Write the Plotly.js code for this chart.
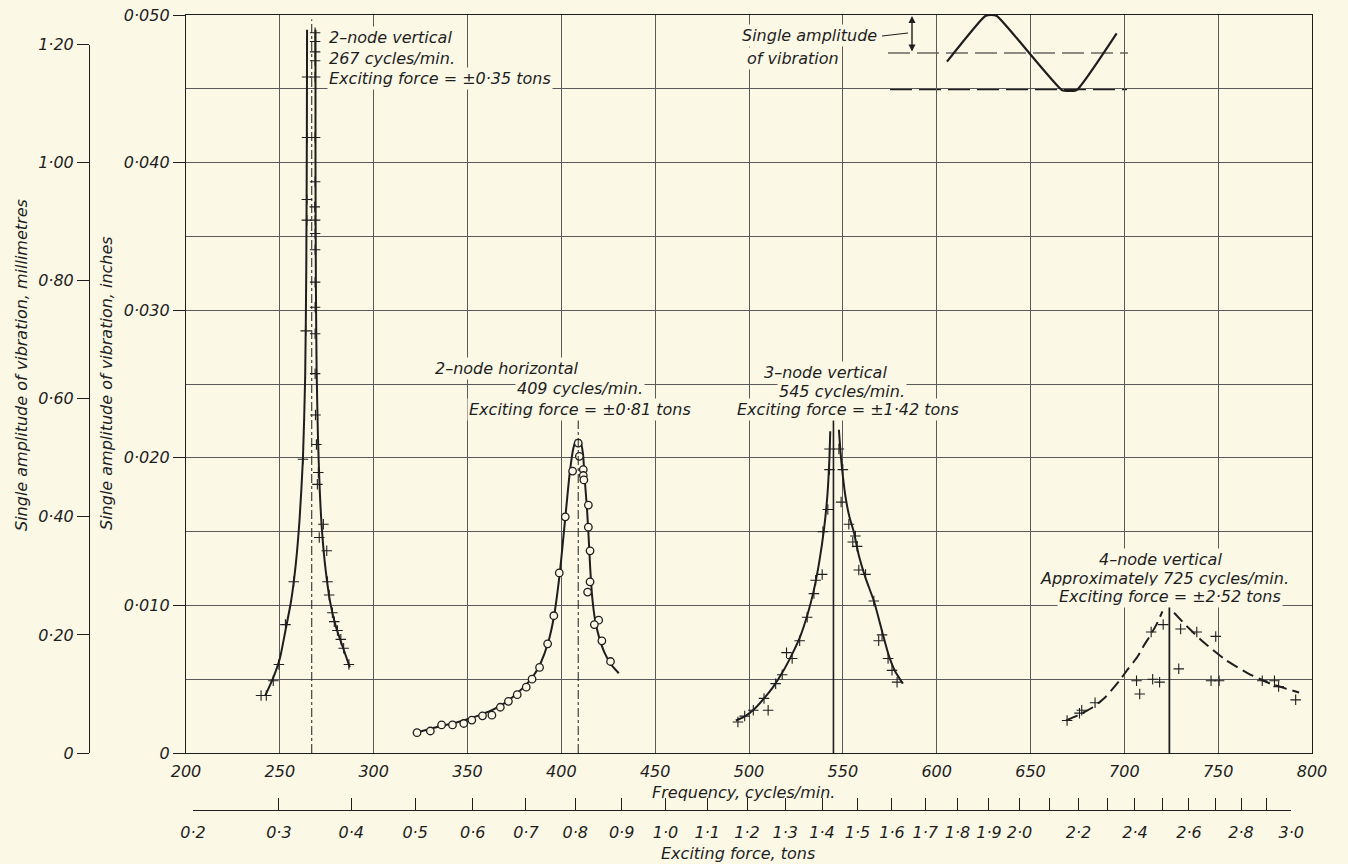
<!DOCTYPE html>
<html>
<head>
<meta charset="utf-8">
<script src="https://cdn.plot.ly/plotly-3.0.1.min.js"></script>
<style>html,body{margin:0;padding:0;background:#fbf8e6;}#chart{width:1348px;height:864px;}</style>
</head>
<body>
<div id="chart"></div>
<script>
// ---------------- DATA ----------------
// Frequency axis ticks
const freqTicks = [200, 250, 300, 350, 400, 450, 500, 550, 600, 650, 700, 750, 800];
const freqTickText = ['200','250','300','350','400','450','500','550','600','650','700','750','800'];
// Amplitude (inches) axis ticks
const inchTicks = [0, 0.010, 0.020, 0.030, 0.040, 0.050];
const inchTickText = ['0', '0·010', '0·020', '0·030', '0·040', '0·050'];
// Amplitude (millimetres) axis ticks
const mmTicks = [0, 0.20, 0.40, 0.60, 0.80, 1.00, 1.20];
const mmTickText = ['0', '0·20', '0·40', '0·60', '0·80', '1·00', '1·20'];
// Exciting force axis ticks (tons)
const forceTicks = [0.2,0.3,0.4,0.5,0.6,0.7,0.8,0.9,1.0,1.1,1.2,1.3,1.4,1.5,1.6,1.7,1.8,1.9,2.0,2.1,2.2,2.3,2.4,2.5,2.6,2.7,2.8,2.9,3.0];
const forceTickText = ['0·2','0·3','0·4','0·5','0·6','0·7','0·8','0·9','1·0','1·1','1·2','1·3','1·4','1·5','1·6','1·7','1·8','1·9','2·0','','2·2','','2·4','','2·6','','2·8','','3·0'];
// force scale of the drawn force axis: force = K * frequency^2
const K = 4.82e-6;
const MM_DRAWN_PER_INCH = 25;

// 2-node vertical, 267 cycles/min
const c1LeftX = [242.3, 246.5, 250, 253, 256, 258.5, 260.5, 262.3, 263.5, 264.1, 264.4, 264.5];
const c1LeftY = [0.0039, 0.0051, 0.0064, 0.0083, 0.0103, 0.0128, 0.0158, 0.0199, 0.0255, 0.0330, 0.0420, 0.0490];
const c1RightX = [269.0, 269.0, 269.2, 269.6, 270.3, 271.2, 272.5, 274.5, 277, 280, 283.5, 287.3];
const c1RightY = [0.0490, 0.0400, 0.0320, 0.0260, 0.0215, 0.0180, 0.0150, 0.0123, 0.0101, 0.0085, 0.0072, 0.0058];
const c1PtsX = [240, 242.8, 246.5, 249.5, 253, 257.4, 262.3, 263.8, 264.4, 264.4, 264.5, 264.5,
  268.8, 268.8, 268.8, 268.8, 268.8, 268.8, 268.8, 268.6, 268.8, 268.8, 268.8, 268.8, 268.8, 268.8, 268.8,
  269.0, 269.5, 270.5, 270.0, 273.2, 271.0, 275.0, 275.4, 276.3, 278.0, 279.0, 280.7, 282.5, 284.0, 286.8];
const c1PtsY = [0.0039, 0.0039, 0.0049, 0.0060, 0.0087, 0.0116, 0.0199, 0.0286, 0.0361, 0.0375, 0.0417, 0.0458,
  0.0488, 0.0482, 0.0475, 0.0469, 0.0458, 0.0417, 0.0387, 0.0370, 0.0361, 0.0352, 0.0341, 0.0319, 0.0302, 0.0284, 0.0257,
  0.0229, 0.0209, 0.0190, 0.0182, 0.0155, 0.0146, 0.0137, 0.0116, 0.0107, 0.0095, 0.0089, 0.0083, 0.0077, 0.0071, 0.0060];

// 2-node horizontal, 409 cycles/min
const c2LineX = [323, 335, 345, 355, 363, 370, 376, 381, 385, 389, 393, 396, 399, 402, 404.5, 406.5, 408, 410, 411.5, 412.5, 413.7, 414.6, 415.4, 416.5, 418, 420, 423, 426.5, 430.6];
const c2LineY = [0.0014, 0.0018, 0.0021, 0.0025, 0.0029, 0.0034, 0.0040, 0.0046, 0.0052, 0.0061, 0.0075, 0.0092, 0.0120, 0.0158, 0.0190, 0.0207, 0.0212, 0.0212, 0.0203, 0.0185, 0.0165, 0.0145, 0.0125, 0.0105, 0.0090, 0.0079, 0.0068, 0.0060, 0.0054];
const c2PtsX = [323.1, 330.2, 336.2, 342, 348, 352.3, 358, 363, 367.5, 371.8, 376.5, 381.3, 384.4, 388.4, 392.7, 396.0, 398.9, 402.1, 406, 409, 409.6, 411.7, 411.7, 412, 414.4, 414.4, 415.3, 415.3, 414.0, 419.9, 417.6, 421.6, 426.2];
const c2PtsY = [0.00138, 0.00149, 0.0019, 0.0019, 0.0020, 0.00223, 0.00252, 0.00256, 0.0031, 0.0035, 0.00395, 0.00446, 0.0050, 0.0058, 0.0074, 0.0093, 0.0122, 0.0160, 0.0191, 0.0210, 0.0201, 0.0192, 0.0188, 0.0185, 0.0168, 0.0153, 0.0137, 0.0116, 0.0109, 0.0090, 0.0087, 0.0076, 0.0062];

// 3-node vertical, 545 cycles/min
const c3LeftX = [493, 498, 503, 508, 513, 518, 523, 527, 531, 534.5, 537.5, 540, 541.8, 542.8, 543.3];
const c3LeftY = [0.0022, 0.0025, 0.0030, 0.0037, 0.0045, 0.0055, 0.0067, 0.0078, 0.0093, 0.0110, 0.0130, 0.0152, 0.0175, 0.0198, 0.0218];
const c3RightX = [547.9, 548.7, 549.8, 551.5, 553.5, 555.8, 558.5, 562, 566.8, 571, 574.5, 578, 582];
const c3RightY = [0.0219, 0.0205, 0.0190, 0.0173, 0.0160, 0.0150, 0.0134, 0.0119, 0.0102, 0.0082, 0.0066, 0.0055, 0.0047];
const c3PtsX = [542.9, 547.9, 542.9, 550.0, 549.1, 542.0, 539.4, 553.2, 556.7, 555.3, 557.6, 558.5, 562.1, 539.0, 535.5, 534.6, 566.5, 531.0, 570.9, 569.1, 527.0, 520.0, 523.0, 574.1, 576.2, 578.9, 517.7, 514.2, 508.0, 494.1, 497.7, 502.3, 510.2];
const c3PtsY = [0.0206, 0.0206, 0.0192, 0.0192, 0.0170, 0.0165, 0.0150, 0.0155, 0.0147, 0.0143, 0.0140, 0.0124, 0.0121, 0.0121, 0.0117, 0.0108, 0.0103, 0.0092, 0.0080, 0.0076, 0.0076, 0.0068, 0.0064, 0.0064, 0.0056, 0.0048, 0.0053, 0.0047, 0.0037, 0.0021, 0.0025, 0.0029, 0.0029];

// 4-node vertical, approx. 725 cycles/min
const c4LeftX = [669, 676, 683.2, 690, 697.4, 702, 706.9, 710.5, 714, 717.5, 720.3];
const c4LeftY = [0.0022, 0.0026, 0.0031, 0.0038, 0.0049, 0.0057, 0.0065, 0.0073, 0.0080, 0.0088, 0.0096];
const c4RightX = [726.5, 734, 742.3, 754.1, 765.9, 777.8, 793.1];
const c4RightY = [0.0095, 0.0085, 0.0075, 0.0063, 0.0054, 0.0047, 0.0041];
const c4PtsX = [669.5, 676.1, 677.3, 684.4, 706.5, 708.2, 715.1, 718.8, 714.3, 720.7, 730.0, 729.0, 738.6, 748.7, 746.2, 750.5, 773.5, 780.0, 782.2, 791.3];
const c4PtsY = [0.0022, 0.0027, 0.0029, 0.0034, 0.0049, 0.0040, 0.0050, 0.0048, 0.0082, 0.0087, 0.0084, 0.0057, 0.0082, 0.0079, 0.0049, 0.0049, 0.0049, 0.0049, 0.0045, 0.0036];

// resonance reference lines
const resFreq = [267, 409, 545, 724];
const resTop = [0.0497, 0.0226, 0.0227, 0.0102];

// explanatory sketch (sine) in the top right
const sineX = [605.5, 625.9, 629.0, 632.1, 666.7, 670.6, 674.6, 695.9];
const sineY = [0.04684, 0.04993, 0.05000, 0.04993, 0.04492, 0.04485, 0.04492, 0.04876];

// ---------------- STYLE / LAYOUT ----------------
const PAPER = '#fbf8e6';
const INK = '#1e1e1e';
const GRID = '#5a5a5a';
const W = 1348, H = 864;
const px = v => v / W;
const py = v => 1 - v / H;
const FONT = {family: 'DejaVu Sans, sans-serif', size: 16, color: INK, style: 'italic'};

const xd = [px(186), px(1312)];
const yd = [py(753), py(15)];
const xFrac = f => xd[0] + (xd[1] - xd[0]) * (f - 200) / 600;
const fOf = F => Math.sqrt(F / K);
const fLo = fOf(forceTicks[0]);
const fHi = fOf(forceTicks[forceTicks.length - 1]);
const mmTop = yd[0] + (yd[1] - yd[0]) * mmTicks[mmTicks.length - 1] / (0.05 * MM_DRAWN_PER_INCH);

function lineTrace(x, y, dash) {
  return {x: x, y: y, mode: 'lines', type: 'scatter', line: {color: INK, width: 2, shape: 'spline', smoothing: 0.6, dash: dash || 'solid'}, hoverinfo: 'skip'};
}
function plusTrace(x, y) {
  return {x: x, y: y, mode: 'markers', type: 'scatter', marker: {symbol: 'cross-thin', size: 7.5, line: {color: INK, width: 1.1}}, hoverinfo: 'skip'};
}

const traces = [
  lineTrace(c1LeftX, c1LeftY), lineTrace(c1RightX, c1RightY), plusTrace(c1PtsX, c1PtsY),
  lineTrace(c2LineX, c2LineY),
  {x: c2PtsX, y: c2PtsY, mode: 'markers', type: 'scatter', marker: {symbol: 'circle', size: 7.5, color: PAPER, line: {color: INK, width: 1.3}}, hoverinfo: 'skip'},
  lineTrace(c3LeftX, c3LeftY), lineTrace(c3RightX, c3RightY), plusTrace(c3PtsX, c3PtsY),
  lineTrace(c4LeftX, c4LeftY, '12px,6px'), lineTrace(c4RightX, c4RightY, '12px,6px'), plusTrace(c4PtsX, c4PtsY),
  {x: sineX, y: sineY, mode: 'lines', type: 'scatter', line: {color: INK, width: 2.2, shape: 'spline', smoothing: 0.5}, hoverinfo: 'skip'},
  // carrier for the free millimetre and force axes
  {x: [fLo], y: [0], xaxis: 'x2', yaxis: 'y2', mode: 'markers', marker: {opacity: 0}, hoverinfo: 'skip'}
];

const resDash = ['dashdot', 'dashdot', 'solid', 'solid'];
const resWidth = [1, 1, 1.6, 1.8];
const shapes = resFreq.map((f, i) => ({type: 'line', xref: 'x', yref: 'y', x0: f, x1: f, y0: 0, y1: resTop[i],
  line: {color: INK, width: resWidth[i], dash: resDash[i]}, layer: 'above'}));
// blank box behind the sketch (hides the grid there)
shapes.push({type: 'rect', xref: 'paper', yref: 'paper', x0: px(868), x1: px(1148), y0: py(107), y1: py(16.5),
  fillcolor: PAPER, line: {width: 0}, layer: 'between'});
shapes.push({type: 'line', xref: 'paper', yref: 'paper', x0: px(890), x1: px(1127), y0: py(89.5), y1: py(89.5),
  line: {color: INK, width: 1.5, dash: '22px,7px'}, layer: 'between'});
shapes.push({type: 'line', xref: 'paper', yref: 'paper', x0: px(888), x1: px(1128), y0: py(53), y1: py(53),
  line: {color: INK, width: 1.2, dash: '22px,7px'}, layer: 'between'});
shapes.push({type: 'line', xref: 'paper', yref: 'paper', x0: px(882), x1: px(908), y0: py(36), y1: py(33),
  line: {color: INK, width: 1}, layer: 'above'});

function txt(text, x, y, opts) {
  return Object.assign({text: text, xref: 'paper', yref: 'paper', x: px(x), y: py(y), xanchor: 'left', yanchor: 'middle',
    showarrow: false, font: FONT, bgcolor: PAPER, borderpad: 1}, opts || {});
}
const annotations = [
  txt('2–node vertical', 327, 37), txt('267 cycles/min.', 327, 58), txt('Exciting force = ±0·35 tons', 327, 78),
  txt('2–node horizontal', 433, 369), txt('409 cycles/min.', 515, 389), txt('Exciting force = ±0·81 tons', 467, 409),
  txt('3–node vertical', 762, 372), txt('545 cycles/min.', 777, 391), txt('Exciting force = ±1·42 tons', 735, 410),
  txt('4–node vertical', 1097, 559), txt('Approximately 725 cycles/min.', 1038, 578), txt('Exciting force = ±2·52 tons', 1057, 596),
  txt('Single amplitude', 740, 35), txt('of vibration', 745, 58),
  txt('Frequency, cycles/min.', 650, 792, {bgcolor: 'rgba(0,0,0,0)'}),
  txt('Exciting force, tons', 659, 853, {bgcolor: 'rgba(0,0,0,0)'}),
  txt('Single amplitude of vibration, inches', 107, 383, {xanchor: 'center', textangle: -90, bgcolor: 'rgba(0,0,0,0)'}),
  txt('Single amplitude of vibration, millimetres', 21, 365, {xanchor: 'center', textangle: -90, bgcolor: 'rgba(0,0,0,0)'}),
  {text: '', xref: 'paper', yref: 'paper', x: px(912), y: py(16), axref: 'pixel', ayref: 'pixel', ax: 0, ay: 37,
    showarrow: true, arrowhead: 2, arrowside: 'end+start', arrowsize: 1, arrowwidth: 1.4, arrowcolor: INK}
];

const layout = {
  width: W, height: H, margin: {l: 0, r: 0, t: 0, b: 0},
  paper_bgcolor: PAPER, plot_bgcolor: 'rgba(0,0,0,0)', showlegend: false, font: FONT,
  xaxis: {domain: xd, range: [200, 800], tickmode: 'array', tickvals: freqTicks, ticktext: freqTickText,
    showgrid: true, gridcolor: GRID, gridwidth: 1, showline: true, mirror: true, linecolor: INK, linewidth: 1.2,
    zeroline: false, ticks: 'outside', ticklen: 4, tickcolor: 'rgba(0,0,0,0)', tickfont: FONT, anchor: 'y', fixedrange: true},
  yaxis: {domain: yd, range: [0, 0.05], tickmode: 'array', tickvals: inchTicks, ticktext: inchTickText,
    showgrid: true, gridcolor: GRID, gridwidth: 1,
    minor: {tickmode: 'linear', tick0: 0, dtick: 0.005, showgrid: true, gridcolor: GRID, gridwidth: 1, ticks: ''},
    showline: true, mirror: true, linecolor: INK, linewidth: 1.2, zeroline: false,
    ticks: 'outside', ticklen: 12, tickcolor: INK, tickfont: FONT, anchor: 'x', fixedrange: true},
  yaxis2: {domain: [yd[0], mmTop], range: [0, 1.2], anchor: 'free', position: px(89), side: 'left',
    tickmode: 'array', tickvals: mmTicks, ticktext: mmTickText, showgrid: false, zeroline: false,
    showline: true, linecolor: INK, linewidth: 1.2, ticks: 'outside', ticklen: 12, tickcolor: INK, tickfont: FONT, fixedrange: true},
  xaxis2: {domain: [xFrac(fLo), xFrac(fHi)], range: [fLo, fHi], anchor: 'free', position: py(810), side: 'bottom',
    tickmode: 'array', tickvals: forceTicks.map(fOf), ticktext: forceTickText, showgrid: false, zeroline: false,
    showline: true, linecolor: INK, linewidth: 1.2, ticks: 'inside', ticklen: 12, tickcolor: INK, tickfont: FONT,
    ticklabelstandoff: 8, fixedrange: true},
  shapes: shapes,
  annotations: annotations
};

Plotly.newPlot('chart', traces, layout, {staticPlot: true, displayModeBar: false});
</script>
</body>
</html>
